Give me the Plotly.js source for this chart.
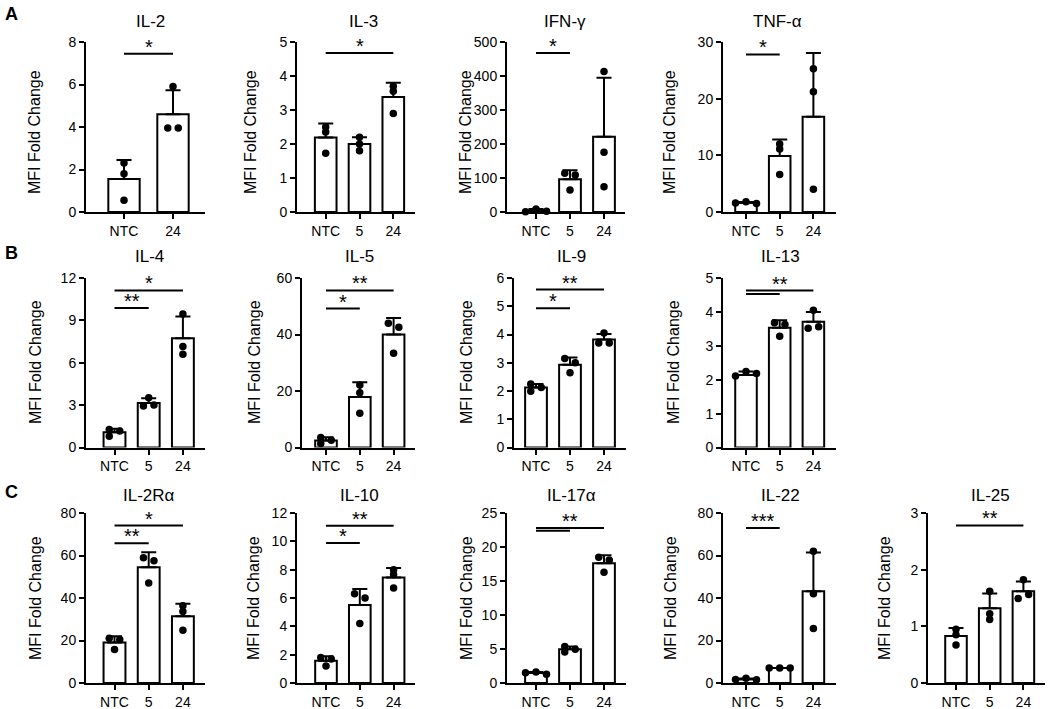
<!DOCTYPE html>
<html><head><meta charset="utf-8">
<script src="https://cdn.plot.ly/plotly-3.0.1.min.js"></script>
<style>html,body{margin:0;padding:0;background:#fff}#chart{width:1050px;height:709px}</style>
</head><body><div id="chart"></div>
<script>
// ---------------- DATA ----------------
const CAT3 = ['NTC', '5', '24'];
const CAT2 = ['NTC', '24'];
const Y_TITLE = 'MFI Fold Change';

const IL2_points = [[2.3, 1.8, 0.55], [5.9, 3.95, 3.95]];
const IL2_mean = [1.55, 4.6];
const IL2_sd = [0.9, 1.13];
const IL2_sig = [[0, 1, 7.45, '*']];

const IL3_points = [[2.5, 2.35, 1.73], [2.2, 2.0, 1.8], [3.7, 3.55, 2.9]];
const IL3_mean = [2.19, 2.0, 3.38];
const IL3_sd = [0.41, 0.2, 0.42];
const IL3_sig = [[0, 2, 4.68, '*']];

const IFNG_points = [[9, 2, 1], [114, 109, 65], [413, 176, 74]];
const IFNG_mean = [4, 96, 221];
const IFNG_sd = [5, 27, 174];
const IFNG_sig = [[0, 1, 468, '*']];

const TNFA_points = [[1.8, 1.5, 1.6], [12.0, 11.1, 6.6], [25.3, 21.2, 4.0]];
const TNFA_mean = [1.63, 9.9, 16.8];
const TNFA_sd = [0.15, 2.9, 11.25];
const TNFA_sig = [[0, 1, 27.8, '*']];

const IL4_points = [[1.28, 0.8, 1.16], [3.53, 2.93, 3.0], [9.45, 7.15, 6.6]];
const IL4_mean = [1.08, 3.15, 7.73];
const IL4_sd = [0.25, 0.33, 1.54];
const IL4_sig = [[0, 2, 11.12, '*'], [0, 1, 9.87, '**']];

const IL5_points = [[3.55, 1.4, 2.6], [22.1, 19.4, 12.1], [44.0, 42.6, 33.4]];
const IL5_mean = [2.52, 17.9, 40.0];
const IL5_sd = [1.08, 5.2, 5.8];
const IL5_sig = [[0, 2, 55.6, '**'], [0, 1, 49.2, '*']];

const IL9_points = [[2.25, 1.99, 2.12], [3.15, 3.0, 2.65], [4.05, 3.7, 3.7]];
const IL9_mean = [2.12, 2.93, 3.82];
const IL9_sd = [0.13, 0.26, 0.2];
const IL9_sig = [[0, 2, 5.59, '**'], [0, 1, 4.93, '*']];

const IL13_points = [[2.24, 2.18, 2.11], [3.68, 3.63, 3.28], [4.05, 3.52, 3.56]];
const IL13_mean = [2.14, 3.53, 3.71];
const IL13_sd = [0.1, 0.22, 0.29];
const IL13_sig = [[0, 2, 4.63, '**'], [0, 1, 4.53, '']];

const IL2RA_points = [[21, 20.5, 15.8], [59, 57.5, 47], [36.3, 33.6, 24.8]];
const IL2RA_mean = [19.1, 54.5, 31.4];
const IL2RA_sd = [2.9, 7.0, 5.9];
const IL2RA_sig = [[0, 2, 74.1, '*'], [0, 1, 65.8, '**']];

const IL10_points = [[1.8, 1.7, 1.2], [6.3, 6.0, 4.2], [8.0, 7.65, 6.7]];
const IL10_mean = [1.57, 5.5, 7.45];
const IL10_sd = [0.32, 1.14, 0.67];
const IL10_sig = [[0, 2, 11.1, '**'], [0, 1, 9.88, '*']];

const IL17A_points = [[1.6, 1.3, 1.5], [5.35, 4.55, 4.95], [18.5, 18.1, 16.3]];
const IL17A_mean = [1.47, 4.95, 17.6];
const IL17A_sd = [0.15, 0.4, 1.17];
const IL17A_sig = [[0, 2, 22.8, '**'], [0, 1, 22.4, '']];

const IL22_points = [[2.2, 1.5, 1.6], [7.1, 7.0, 7.0], [62, 42, 25.6]];
const IL22_mean = [1.77, 7.03, 43.2];
const IL22_sd = [0.38, 0.06, 18.2];
const IL22_sig = [[0, 1, 72.9, '***']];

const IL25_points = [[0.95, 0.85, 0.67], [1.62, 1.22, 1.12], [1.82, 1.49, 1.56]];
const IL25_mean = [0.83, 1.32, 1.62];
const IL25_sd = [0.14, 0.26, 0.17];
const IL25_sig = [[0, 2, 2.78, '**']];

const PANEL_LETTERS = ['A', 'B', 'C'];

// ---------------- LAYOUT SPEC (pixel geometry) ----------------
const W = 1050, H = 709;
const FONT = 'Liberation Sans, Arial, Helvetica, sans-serif';
const rows = [
  {top: 42, bot: 212, ty: 22, yty: 132, ly: 14},
  {top: 278, bot: 447.5, ty: 256, yty: 362, ly: 253},
  {top: 513, bot: 683, ty: 495, yty: 598, ly: 492}
];
const panels = [
  {t: 'IL-2', c: CAT2, p: IL2_points, m: IL2_mean, s: IL2_sd, g: IL2_sig, ymax: 8, dt: 2, L: 86, c0: 124, st: 49, R: 205, r: 0, tx: 150, yx: 35},
  {t: 'IL-3', c: CAT3, p: IL3_points, m: IL3_mean, s: IL3_sd, g: IL3_sig, ymax: 5, dt: 1, L: 297, c0: 325.7, st: 33.8, R: 415, r: 0, tx: 363, yx: 251},
  {t: 'IFN-γ', c: CAT3, p: IFNG_points, m: IFNG_mean, s: IFNG_sd, g: IFNG_sig, ymax: 500, dt: 100, L: 507, c0: 536, st: 34, R: 625, r: 0, tx: 565, yx: 466},
  {t: 'TNF-α', c: CAT3, p: TNFA_points, m: TNFA_mean, s: TNFA_sd, g: TNFA_sig, ymax: 30, dt: 10, L: 723, c0: 746, st: 33.7, R: 836, r: 0, tx: 777, yx: 670},
  {t: 'IL-4', c: CAT3, p: IL4_points, m: IL4_mean, s: IL4_sd, g: IL4_sig, ymax: 12, dt: 3, L: 86, c0: 114.5, st: 34.2, R: 205, r: 1, tx: 149, yx: 35},
  {t: 'IL-5', c: CAT3, p: IL5_points, m: IL5_mean, s: IL5_sd, g: IL5_sig, ymax: 60, dt: 20, L: 302, c0: 326, st: 33.8, R: 415, r: 1, tx: 359, yx: 254},
  {t: 'IL-9', c: CAT3, p: IL9_points, m: IL9_mean, s: IL9_sd, g: IL9_sig, ymax: 6, dt: 1, L: 514, c0: 536, st: 34, R: 626, r: 1, tx: 571, yx: 466},
  {t: 'IL-13', c: CAT3, p: IL13_points, m: IL13_mean, s: IL13_sd, g: IL13_sig, ymax: 5, dt: 1, L: 723, c0: 746, st: 33.7, R: 836, r: 1, tx: 780, yx: 673},
  {t: 'IL-2Rα', c: CAT3, p: IL2RA_points, m: IL2RA_mean, s: IL2RA_sd, g: IL2RA_sig, ymax: 80, dt: 20, L: 86, c0: 114.5, st: 34.2, R: 205, r: 2, tx: 149, yx: 35},
  {t: 'IL-10', c: CAT3, p: IL10_points, m: IL10_mean, s: IL10_sd, g: IL10_sig, ymax: 12, dt: 2, L: 297, c0: 326, st: 33.8, R: 415, r: 2, tx: 359, yx: 253},
  {t: 'IL-17α', c: CAT3, p: IL17A_points, m: IL17A_mean, s: IL17A_sd, g: IL17A_sig, ymax: 25, dt: 5, L: 507, c0: 536, st: 34, R: 626, r: 2, tx: 571, yx: 466},
  {t: 'IL-22', c: CAT3, p: IL22_points, m: IL22_mean, s: IL22_sd, g: IL22_sig, ymax: 80, dt: 20, L: 723, c0: 746, st: 33.7, R: 836, r: 2, tx: 780, yx: 670},
  {t: 'IL-25', c: CAT3, p: IL25_points, m: IL25_mean, s: IL25_sd, g: IL25_sig, ymax: 3, dt: 1, L: 928, c0: 956, st: 33.7, R: 1045, r: 2, tx: 990, yx: 884}
];

// ---------------- jitter rule (GraphPad-like: spread only overlapping points) ----------------
function jitter(vals, pxPerUnit) {
  const STEP = 10.5, MIN = 4.5, ROW = 6;
  const ys = vals.map(v => v * pxPerUnit);
  const off = [];
  const tries = [0, STEP, -STEP, 2 * STEP, -2 * STEP];
  ys.forEach((y, i) => {
    for (const t of tries) {
      let ok = true;
      for (let j = 0; j < i; j++) {
        const d = Math.hypot(t - off[j], y - ys[j]);
        if (d < MIN) { ok = false; break; }
      }
      if (ok) { off.push(t); return; }
    }
    off.push(0);
  });
  const comp = ys.map((_, i) => i);
  const find = i => comp[i] === i ? i : (comp[i] = find(comp[i]));
  for (let i = 0; i < ys.length; i++)
    for (let j = i + 1; j < ys.length; j++)
      if (Math.abs(ys[i] - ys[j]) < ROW) comp[find(i)] = find(j);
  const groups = {};
  ys.forEach((_, i) => { const r = find(i); (groups[r] = groups[r] || []).push(i); });
  Object.values(groups).forEach(g => {
    const mn = Math.min(...g.map(i => off[i])), mx = Math.max(...g.map(i => off[i]));
    const c = (mn + mx) / 2;
    g.forEach(i => off[i] -= c);
  });
  return off;
}

// ---------------- build figure ----------------
const traces = [], shapes = [], annotations = [];
const layout = {
  width: W, height: H, margin: {l: 0, r: 0, t: 0, b: 0},
  paper_bgcolor: '#fff', plot_bgcolor: 'rgba(0,0,0,0)',
  showlegend: false, font: {family: FONT, color: '#000', size: 14}
};
const px = x => x / W, py = y => 1 - y / H;

panels.forEach((P, i) => {
  const k = i + 1, xa = 'x' + k, ya = 'y' + k;
  const row = rows[P.r];
  const n = P.c.length;
  const lo = -(P.c0 - P.L) / P.st;
  const hi = (n - 1) + (P.R - (P.c0 + (n - 1) * P.st)) / P.st;
  const common = {
    showline: true, linecolor: '#000', linewidth: 2, ticks: 'outside', ticklen: 5,
    tickwidth: 2, tickcolor: '#000', showgrid: false, zeroline: false, fixedrange: true,
    tickfont: {family: FONT, size: 14, color: '#000'}
  };
  layout['xaxis' + (k === 1 ? '' : k)] = Object.assign({}, common, {
    domain: [px(P.L), px(P.R)], range: [lo, hi], anchor: ya,
    tickmode: 'array', tickvals: P.c.map((_, j) => j), ticktext: P.c
  });
  layout['yaxis' + (k === 1 ? '' : k)] = Object.assign({}, common, {
    domain: [py(row.bot), py(row.top)], range: [0, P.ymax], anchor: xa,
    tickmode: 'linear', tick0: 0, dtick: P.dt
  });
  const xs = P.c.map((_, j) => j);
  traces.push({
    type: 'bar', x: xs, y: P.m, width: 0.64, xaxis: xa, yaxis: ya, hoverinfo: 'skip',
    marker: {color: '#fff', line: {color: '#000', width: 2}},
    error_y: {type: 'data', symmetric: false, array: P.s, arrayminus: P.s.map(() => 0),
      color: '#000', thickness: 2, width: 7.5}
  });
  const ppu = (row.bot - row.top) / P.ymax;
  const unitPerPx = 1 / P.st;
  const sx = [], sy = [];
  P.p.forEach((grp, j) => {
    const off = jitter(grp, ppu);
    grp.forEach((v, q) => { sx.push(j + off[q] * unitPerPx); sy.push(v); });
  });
  traces.push({
    type: 'scatter', mode: 'markers', x: sx, y: sy, xaxis: xa, yaxis: ya, hoverinfo: 'skip',
    cliponaxis: false, marker: {color: '#000', size: 7.5}
  });
  P.g.forEach(([a, b, y, lab]) => {
    shapes.push({type: 'line', xref: xa, yref: ya, x0: a, x1: b, y0: y, y1: y,
      line: {color: '#000', width: 2}});
    if (lab) annotations.push({xref: xa, yref: ya, x: (a + b) / 2, y: y, text: lab,
      showarrow: false, yanchor: 'bottom', yshift: -6, font: {family: FONT, size: 20, color: '#000'}});
  });
  annotations.push({xref: 'paper', yref: 'paper', x: px(P.tx), y: py(row.ty), text: P.t,
    showarrow: false, xanchor: 'center', yanchor: 'middle', font: {family: FONT, size: 17, color: '#000'}});
  annotations.push({xref: 'paper', yref: 'paper', x: px(P.yx), y: py(row.yty), text: Y_TITLE,
    textangle: -90, showarrow: false, xanchor: 'center', yanchor: 'middle',
    font: {family: FONT, size: 16, color: '#000'}});
});
rows.forEach((r, i) => {
  annotations.push({xref: 'paper', yref: 'paper', x: px(11), y: py(r.ly), text: '<b>' + PANEL_LETTERS[i] + '</b>',
    showarrow: false, xanchor: 'center', yanchor: 'middle', font: {family: FONT, size: 18, color: '#000'}});
});
layout.shapes = shapes;
layout.annotations = annotations;

Plotly.newPlot('chart', traces, layout, {staticPlot: true, displayModeBar: false});
</script>
</body></html>
